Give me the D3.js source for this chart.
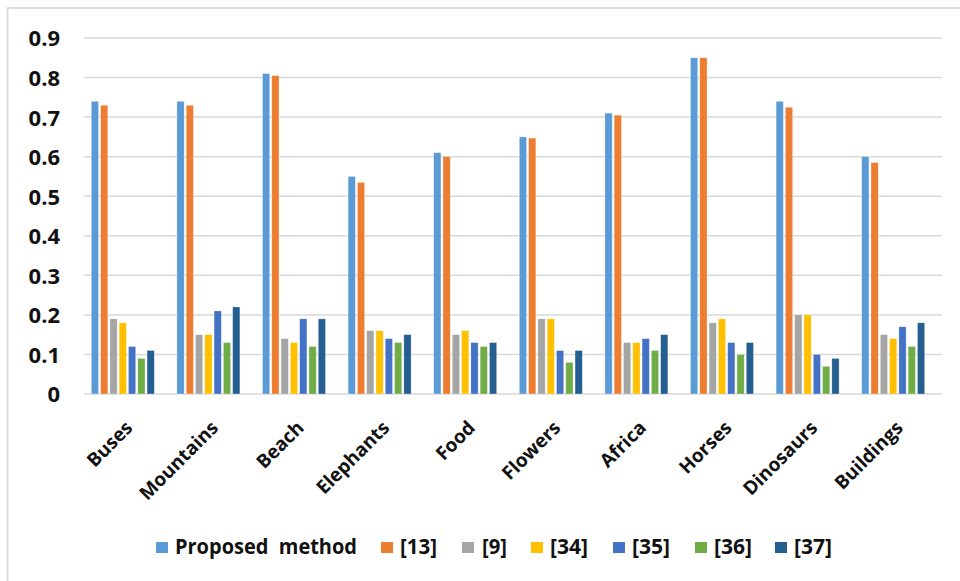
<!DOCTYPE html>
<html>
<head>
<meta charset="utf-8">
<script src="https://cdn.jsdelivr.net/npm/d3@7/dist/d3.min.js"></script>
<style>
  html, body { margin: 0; padding: 0; background: #fff; }
  svg { display: block; }
</style>
</head>
<body>
<svg id="chart" width="960" height="581"></svg>
<script>
// Categories and series
const categories = ["Buses", "Mountains", "Beach", "Elephants", "Food", "Flowers", "Africa", "Horses", "Dinosaurs", "Buildings"];
const seriesNames = ["Proposed  method", "[13]", "[9]", "[34]", "[35]", "[36]", "[37]"];
const seriesColors = ["#5B9BD5", "#ED7D31", "#A5A5A5", "#FFC000", "#4472C4", "#70AD47", "#255E91"];

const proposed = [0.74, 0.74, 0.81, 0.55, 0.61, 0.65, 0.71, 0.85, 0.74, 0.60];
const ref13    = [0.73, 0.73, 0.805, 0.535, 0.60, 0.647, 0.705, 0.85, 0.725, 0.585];
const ref9     = [0.19, 0.15, 0.14, 0.16, 0.15, 0.19, 0.13, 0.18, 0.20, 0.15];
const ref34    = [0.18, 0.15, 0.13, 0.16, 0.16, 0.19, 0.13, 0.19, 0.20, 0.14];
const ref35    = [0.12, 0.21, 0.19, 0.14, 0.13, 0.11, 0.14, 0.13, 0.10, 0.17];
const ref36    = [0.09, 0.13, 0.12, 0.13, 0.12, 0.08, 0.11, 0.10, 0.07, 0.12];
const ref37    = [0.11, 0.22, 0.19, 0.15, 0.13, 0.11, 0.15, 0.13, 0.09, 0.18];

const yTicks = [0, 0.1, 0.2, 0.3, 0.4, 0.5, 0.6, 0.7, 0.8, 0.9];

const seriesValues = [proposed, ref13, ref9, ref34, ref35, ref36, ref37];

const svg = d3.select("#chart");

// Chart area frame (top and left edges)
svg.append("line").attr("x1", 7).attr("x2", 960).attr("y1", 8).attr("y2", 8)
  .attr("stroke", "#dcdcdc").attr("stroke-width", 2);
svg.append("line").attr("x1", 7.5).attr("x2", 7.5).attr("y1", 8).attr("y2", 581)
  .attr("stroke", "#dcdcdc").attr("stroke-width", 2);

// Scales
const y = d3.scaleLinear().domain([0, 0.9]).range([394, 38]);
const x0 = d3.scaleBand().domain(categories).range([80, 936]);
const x1 = d3.scaleBand().domain(d3.range(seriesNames.length)).range([0, 63]).paddingInner(0.22);
const groupOffset = (x0.bandwidth() - x1.range()[1]) / 2;

// Gridlines
const grid = svg.append("g");
grid.selectAll("line").data(yTicks).join("line")
  .attr("x1", 84).attr("x2", 942)
  .attr("y1", d => y(d)).attr("y2", d => y(d))
  .attr("stroke", "#d9d9d9").attr("stroke-width", 1.5);

// Y axis labels
const yAxis = d3.axisLeft(y).tickValues(yTicks).tickSize(0).tickPadding(0)
  .tickFormat(d => d === 0 ? "0" : d3.format(".1f")(d));
const yG = svg.append("g").attr("transform", "translate(60,0)").call(yAxis);
yG.select(".domain").remove();
yG.selectAll("text")
  .attr("font-family", "'Open Sans', sans-serif")
  .attr("font-weight", "bold").attr("font-size", 22)
  .attr("fill", "#111").attr("dy", "0.36em");

// Bars
const groups = svg.append("g").selectAll("g").data(categories).join("g")
  .attr("transform", c => `translate(${x0(c) + groupOffset},0)`);
groups.selectAll("rect")
  .data((c, ci) => seriesValues.map((vals, si) => ({ si, v: vals[ci] })))
  .join("rect")
  .attr("x", d => x1(d.si))
  .attr("width", x1.bandwidth())
  .attr("y", d => y(d.v))
  .attr("height", d => y(0) - y(d.v))
  .attr("fill", d => seriesColors[d.si])
  .attr("stroke", "#fff").attr("stroke-opacity", 0.5).attr("stroke-width", 0.6);

// X axis labels, rotated
const xAxis = d3.axisBottom(x0).tickSize(0).tickPadding(0);
const xG = svg.append("g").attr("transform", "translate(0,400)").call(xAxis);
xG.select(".domain").remove();
xG.selectAll("text")
  .attr("font-family", "'Open Sans', sans-serif")
  .attr("font-weight", "bold").attr("font-size", 19)
  .attr("fill", "#111")
  .attr("text-anchor", "end")
  .attr("y", 0).attr("dy", 0)
  .attr("transform", "translate(11,29) rotate(-45)");

// Legend
const legendItems = [
  { sx: 156, tx: 175, tw: 182 },
  { sx: 381, tx: 400, tw: 37 },
  { sx: 462, tx: 482, tw: 25 },
  { sx: 531, tx: 550, tw: 38 },
  { sx: 613, tx: 632, tw: 38 },
  { sx: 695, tx: 714, tw: 38 },
  { sx: 775, tx: 794, tw: 38 }
];
const legend = svg.append("g");
const li = legend.selectAll("g").data(seriesNames).join("g");
li.append("rect")
  .attr("x", (d, i) => legendItems[i].sx).attr("y", 542)
  .attr("width", 12).attr("height", 11)
  .attr("fill", (d, i) => seriesColors[i]);
li.append("text")
  .attr("x", (d, i) => legendItems[i].tx).attr("y", 554)
  .attr("textLength", (d, i) => legendItems[i].tw)
  .attr("lengthAdjust", "spacingAndGlyphs")
  .attr("font-family", "'Open Sans', sans-serif")
  .attr("font-weight", "bold").attr("font-size", 21)
  .attr("fill", "#111")
  .style("white-space", "pre")
  .text(d => d);
</script>
</body>
</html>
